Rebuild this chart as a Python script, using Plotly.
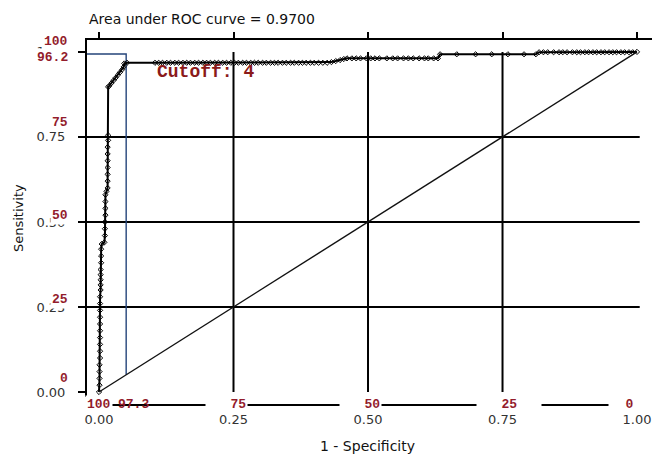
import plotly.graph_objects as go

# ---------------- data ----------------
roc_fpr = [
    0.000, 0.001, 0.001, 0.001, 0.001, 0.002, 0.002, 0.002, 0.002, 0.002,
    0.002, 0.002, 0.002, 0.002, 0.002, 0.003, 0.003, 0.003, 0.003, 0.003,
    0.004, 0.004, 0.004, 0.005,
    0.010, 0.011, 0.011, 0.011, 0.012, 0.012, 0.012, 0.012,
    0.014, 0.016, 0.016, 0.016, 0.016, 0.016, 0.016, 0.016, 0.017, 0.017, 0.017,
    0.019, 0.023, 0.027, 0.031, 0.035, 0.039, 0.043, 0.046, 0.047, 0.052,
    0.104, 0.111, 0.118, 0.126, 0.133, 0.141, 0.148, 0.156, 0.163, 0.170,
    0.178, 0.185, 0.193, 0.200, 0.207, 0.215, 0.222, 0.230, 0.237, 0.245,
    0.252, 0.259, 0.267, 0.274, 0.282, 0.289, 0.296, 0.304, 0.311, 0.319,
    0.326, 0.333, 0.341, 0.348, 0.356, 0.363, 0.371, 0.378, 0.385, 0.393,
    0.400, 0.408, 0.416, 0.424,
    0.432, 0.440, 0.448, 0.455, 0.461,
    0.470, 0.478, 0.486, 0.497, 0.505, 0.513, 0.521, 0.535, 0.546, 0.555,
    0.566, 0.575, 0.584, 0.595, 0.605, 0.612, 0.622, 0.630,
    0.634, 0.665, 0.700, 0.730, 0.760, 0.790, 0.812,
    0.818, 0.826, 0.834, 0.845, 0.855, 0.862, 0.870, 0.880, 0.888, 0.895,
    0.903, 0.910, 0.918, 0.925, 0.933, 0.940, 0.948, 0.955, 0.962, 0.970,
    0.977, 0.985, 0.992, 1.000,
]
roc_tpr = [
    0.000, 0.020, 0.040, 0.060, 0.080, 0.100, 0.120, 0.140, 0.160, 0.180,
    0.200, 0.220, 0.240, 0.260, 0.280, 0.300, 0.315, 0.330, 0.345, 0.360,
    0.380, 0.400, 0.420, 0.435,
    0.440, 0.460, 0.480, 0.500, 0.520, 0.540, 0.560, 0.580,
    0.590, 0.600, 0.620, 0.640, 0.660, 0.680, 0.700, 0.720, 0.740, 0.755, 0.897,
    0.900, 0.908, 0.916, 0.924, 0.932, 0.940, 0.948, 0.956, 0.966, 0.968,
    0.968, 0.968, 0.968, 0.968, 0.968, 0.968, 0.968, 0.968, 0.968, 0.968,
    0.968, 0.968, 0.968, 0.968, 0.968, 0.968, 0.968, 0.968, 0.968, 0.968,
    0.968, 0.968, 0.968, 0.968, 0.968, 0.968, 0.968, 0.968, 0.968, 0.968,
    0.968, 0.968, 0.968, 0.968, 0.968, 0.968, 0.968, 0.968, 0.968, 0.968,
    0.968, 0.968, 0.968, 0.968,
    0.970, 0.973, 0.976, 0.979, 0.981,
    0.981, 0.981, 0.981, 0.981, 0.981, 0.981, 0.981, 0.981, 0.981, 0.981,
    0.981, 0.981, 0.981, 0.981, 0.981, 0.981, 0.981, 0.981,
    0.993, 0.993, 0.993, 0.993, 0.993, 0.993, 0.993,
    0.999, 0.999, 0.999, 0.999, 0.999, 0.999, 0.999, 0.999, 0.999, 0.999,
    0.999, 0.999, 0.999, 0.999, 0.999, 0.999, 0.999, 0.999, 0.999, 0.999,
    0.999, 0.999, 0.999, 1.000,
]
assert len(roc_fpr) == len(roc_tpr)

diag_x = [0.0, 1.0]
diag_y = [0.0, 1.0]

# cutoff reference lines (as drawn)
cut_fpr = 0.0505
cut_level = 0.994

axis_ticks = [0.0, 0.25, 0.5, 0.75, 1.0]
axis_ticktext = ["0.00", "0.25", "0.50", "0.75", "1.00"]

sens_vals = [100, 96.2, 75, 50, 25, 0]
sens_labels = ["100", "96.2", "75", "50", "25", "0"]
spec_vals = [100, 97.3, 75, 50, 25, 0]
spec_labels = ["100", "97.3", "75", "50", "25", "0"]

title_text = "Area under ROC curve = 0.9700"
cutoff_text = "Cutoff: 4"
x_title = "1 - Specificity"
y_title = "Sensitivity"

# ---------------- figure ----------------
# page body has an 8px default margin, so the figure is drawn 8px smaller
OFF = 8
PW, PH = 566, 357
XR = [-0.0223, 1.0297]
YR = [-0.0147, 1.035]
RED = "#931c2c"
FONT = "DejaVu Sans"
MONO = "Liberation Mono"
NB = "\u00a0"

fig = go.Figure()

fig.add_trace(go.Scatter(
    x=diag_x, y=diag_y, mode="lines", xaxis="x2", yaxis="y2",
    line=dict(color="#111111", width=1.4), hoverinfo="skip", showlegend=False))

fig.add_trace(go.Scatter(
    x=[XR[0], cut_fpr, cut_fpr], y=[cut_level, cut_level, cut_fpr],
    mode="lines", line=dict(color="#24447a", width=1.4),
    hoverinfo="skip", showlegend=False, cliponaxis=False))

fig.add_trace(go.Scatter(
    x=roc_fpr, y=roc_tpr, mode="lines+markers",
    line=dict(color="#000000", width=2),
    marker=dict(symbol="diamond-open", size=4, color="#000000",
                line=dict(width=1, color="#000000")),
    showlegend=False))

shapes = []
for v in [0.25, 0.5, 0.75]:
    shapes.append(dict(type="line", xref="x", yref="y", x0=v, x1=v, y0=0, y1=1,
                       line=dict(color="black", width=2), layer="below"))
    shapes.append(dict(type="line", xref="x", yref="y", x0=XR[0], x1=1.005, y0=v, y1=v,
                       line=dict(color="black", width=2), layer="below"))
# secondary (specificity) baseline below the plot
shapes.append(dict(type="line", xref="paper", yref="paper",
                   x0=1 / PW, x1=553 / PW, y0=-8 / PH, y1=-8 / PH,
                   line=dict(color="black", width=2)))

annotations = [
    dict(text=title_text, xref="paper", yref="paper", x=0, y=1 + 21 / PH,
         xanchor="left", yanchor="middle", showarrow=False,
         font=dict(family=FONT, size=14, color="#111111")),
    dict(text="<b>" + cutoff_text + "</b>", xref="x", yref="y", x=0.104, y=0.941,
         xanchor="left", yanchor="middle", showarrow=False,
         font=dict(family=MONO, size=18, color="#8b1a1a")),
    dict(text=x_title, xref="paper", yref="paper", x=(367 - 87) / PW, y=-(446 - 397) / PH,
         xanchor="center", yanchor="middle", showarrow=False,
         font=dict(family=FONT, size=14, color="#111111")),
    dict(text=y_title, xref="paper", yref="paper", x=-(87 - 18) / PW, y=(397 - 218) / PH,
         xanchor="center", yanchor="middle", textangle=-90, showarrow=False,
         font=dict(family=FONT, size=13, color="#111111")),
]

# left (sensitivity) labels, lifted above their values as in the original
sens_lift = [10, 7, 14, 6, 7, 14]
for v, t, lift in zip(sens_vals, sens_labels, sens_lift):
    annotations.append(dict(text="<b>" + t + "</b>", xref="paper", yref="y",
                            x=-17 / PW, y=v / 100, xanchor="right", yanchor="middle",
                            yshift=lift, showarrow=False, bgcolor="white", borderpad=1,
                            font=dict(family=MONO, size=13, color=RED)))

# bottom (specificity) labels: padded text breaks the baseline as in the original
spec_style = {
    "100": dict(text="100", xanchor="center", xshift=0, bg="white"),
    "97.3": dict(text="97.3", xanchor="left", xshift=2, bg=None),
    "75": dict(text=NB * 3 + "75", xanchor="right", xshift=14, bg="white"),
    "50": dict(text=NB * 3 + "50", xanchor="right", xshift=14, bg="white"),
    "25": dict(text=NB * 3 + "25" + NB * 3, xanchor="center", xshift=6, bg="white"),
    "0": dict(text=NB * 2 + "0" + NB, xanchor="right", xshift=6, bg="white"),
}
for v, t in zip(spec_vals, spec_labels):
    st = spec_style[t]
    annotations.append(dict(text="<b>" + st["text"] + "</b>", xref="x", yref="paper",
                            x=1 - v / 100, y=-7 / PH, xanchor=st["xanchor"],
                            xshift=st["xshift"], yanchor="middle",
                            showarrow=False, bgcolor=st["bg"], borderpad=1,
                            font=dict(family=MONO, size=13, color=RED)))

fig.update_layout(
    width=660 - OFF, height=454 - OFF,
    margin=dict(l=87 - OFF, r=7, t=40 - OFF, b=57, autoexpand=False),
    paper_bgcolor="white", plot_bgcolor="white",
    font=dict(family=FONT, size=13, color="#222222"),
    showlegend=False,
    xaxis=dict(range=XR, tickvals=axis_ticks, ticktext=axis_ticktext,
               ticks="outside", ticklen=10, tickcolor="rgba(0,0,0,0)",
               showgrid=False, zeroline=False, showline=False, automargin=False,
               tickfont=dict(family=FONT, size=13, color="#333333")),
    xaxis2=dict(range=XR, overlaying="x", side="top", anchor="y",
                tickvals=axis_ticks, showticklabels=False, automargin=False,
                ticks="outside", ticklen=6, tickwidth=2, tickcolor="black",
                showgrid=False, zeroline=False,
                showline=True, linewidth=2, linecolor="black"),
    yaxis=dict(range=YR, tickvals=axis_ticks, ticktext=axis_ticktext,
               ticks="outside", ticklen=7, tickwidth=2, tickcolor="black",
               ticklabelstandoff=10, automargin=False,
               showgrid=False, zeroline=False,
               showline=True, linewidth=2, linecolor="black",
               tickfont=dict(family=FONT, size=13, color="#333333")),
    yaxis2=dict(range=YR, overlaying="y", side="right", anchor="x",
                tickvals=axis_ticks, showticklabels=False, automargin=False,
                ticks="outside", ticklen=7, tickwidth=2, tickcolor="black",
                showgrid=False, zeroline=False,
                showline=True, linewidth=2, linecolor="black"),
    shapes=shapes,
    annotations=annotations,
)

fig.write_html("out.html")
